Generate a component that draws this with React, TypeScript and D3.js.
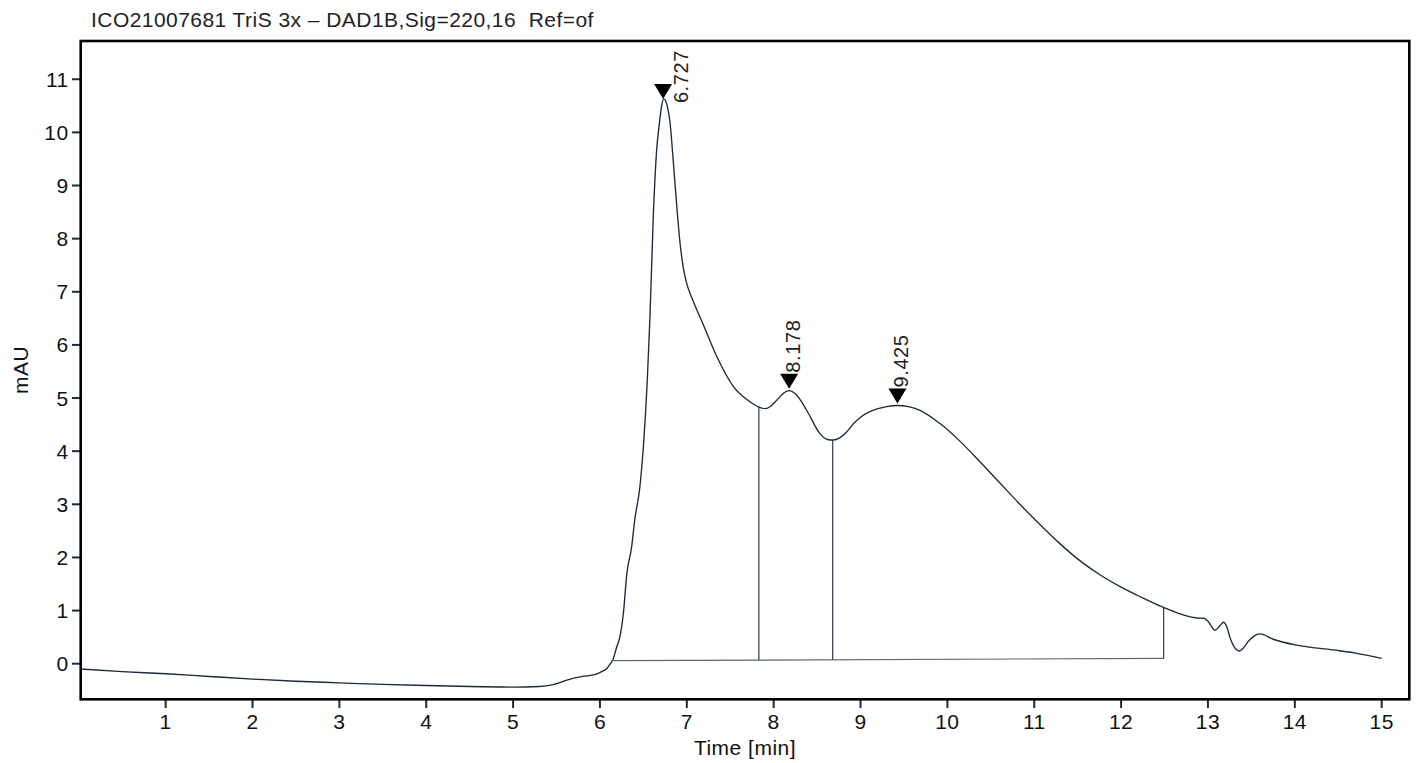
import React from 'react'
import * as d3 from 'd3'

// chromatogram trace (time in min, signal in mAU)
const times = [
	0.02, 0.5, 1.0, 1.5, 2.0, 2.5, 3.0, 3.5, 4.0, 4.5, 5.0, 5.3, 5.45, 5.6, 5.7, 5.8, 5.95, 6.03, 6.08, 6.12,
	6.155, 6.19, 6.23, 6.27, 6.31, 6.365, 6.4, 6.46, 6.5, 6.545, 6.576, 6.614, 6.653, 6.683, 6.71, 6.735, 6.76,
	6.785, 6.806, 6.835, 6.864, 6.92, 6.96, 7.0, 7.05, 7.1, 7.19, 7.34, 7.535, 7.727, 7.83, 7.9, 7.97, 8.035,
	8.12, 8.18, 8.25, 8.38, 8.533, 8.62, 8.686, 8.76, 8.84, 8.92, 9.0, 9.1, 9.2, 9.3, 9.425, 9.55, 9.685, 9.915,
	10.15, 10.375, 10.605, 10.835, 11.065, 11.295, 11.525, 11.76, 11.99, 12.22, 12.5, 12.87, 12.95, 13.0, 13.08,
	13.14, 13.18, 13.22, 13.25, 13.3, 13.36, 13.41, 13.46, 13.53, 13.6, 13.75, 14.02, 14.44, 14.7, 15.0,
]
const signal = [
	-0.1, -0.15, -0.19, -0.24, -0.29, -0.33, -0.36, -0.39, -0.41, -0.43, -0.44, -0.43, -0.4, -0.32, -0.27, -0.24,
	-0.2, -0.14, -0.09, 0.0, 0.1, 0.3, 0.51, 0.95, 1.7, 2.2, 2.7, 3.33, 4.08, 5.33, 6.53, 8.41, 9.67, 10.15, 10.5,
	10.63, 10.58, 10.42, 10.2, 9.65, 9.04, 7.95, 7.45, 7.15, 6.92, 6.72, 6.38, 5.8, 5.22, 4.93, 4.83, 4.8, 4.85,
	4.96, 5.1, 5.14, 5.08, 4.77, 4.33, 4.22, 4.21, 4.25, 4.36, 4.52, 4.64, 4.74, 4.8, 4.84, 4.86, 4.84, 4.77,
	4.52, 4.18, 3.8, 3.4, 3.0, 2.62, 2.26, 1.94, 1.67, 1.45, 1.26, 1.05, 0.86, 0.855, 0.8, 0.63, 0.72, 0.78, 0.68,
	0.51, 0.32, 0.24, 0.3, 0.41, 0.52, 0.56, 0.46, 0.35, 0.26, 0.2, 0.1,
]

// integration: baseline start/end and the drop lines between peaks
const baselineStart = [6.135, 0.057]
const baselineEnd = [12.49, 0.1]
const dropTimes = [7.83, 8.68, 12.49]

const peakTimes = [6.727, 8.178, 9.425]
const peakLabels = ['6.727', '8.178', '9.425']

const xTicks = [1, 2, 3, 4, 5, 6, 7, 8, 9, 10, 11, 12, 13, 14, 15]
const yTicks = [0, 1, 2, 3, 4, 5, 6, 7, 8, 9, 10, 11]

const title = 'ICO21007681 TriS 3x – DAD1B,Sig=220,16  Ref=of'

const W = 1419
const H = 763
const FONT = '"Liberation Sans", Arial, Helvetica, sans-serif'
const INK = '#1b2a3c'

export default function App() {
	const x = d3.scaleLinear().domain([0.022, 15.318]).range([80.7, 1409.3])
	const y = d3.scaleLinear().domain([-0.67, 11.72]).range([699.3, 41])

	const data = times.map((t, i) => [t, signal[i]] as [number, number])
	const line = d3
		.line<[number, number]>()
		.x(d => x(d[0]))
		.y(d => y(d[1]))
		.curve(d3.curveMonotoneX)

	const bis = d3.bisector((d: [number, number]) => d[0]).left
	const valueAt = (t: number) => {
		const i = Math.max(1, Math.min(data.length - 1, bis(data, t)))
		const a = data[i - 1],
			b = data[i]
		return a[1] + ((t - a[0]) / (b[0] - a[0])) * (b[1] - a[1])
	}
	const baseAt = (t: number) =>
		baselineStart[1] +
		((t - baselineStart[0]) / (baselineEnd[0] - baselineStart[0])) * (baselineEnd[1] - baselineStart[1])

	const triW = 18,
		triH = 15
	const labelLen = 54

	return (
		<svg
			width={W}
			height={H}
			style={{ position: 'absolute', left: 0, top: 0, background: '#fff' }}
			fontFamily={FONT}
		>
			<text x={91} y={27} fontSize={21} letterSpacing={0.45} fill="#222" style={{ whiteSpace: 'pre' }}>
				{title}
			</text>

			{/* trace */}
			<path d={line(data) ?? ''} fill="none" stroke={INK} strokeWidth={1.35} />

			{/* baseline + drop lines */}
			<line
				x1={x(baselineStart[0])}
				y1={y(baselineStart[1])}
				x2={x(baselineEnd[0])}
				y2={y(baselineEnd[1])}
				stroke="#5d6673"
				strokeWidth={1.2}
			/>
			{dropTimes.map(t => (
				<line
					key={t}
					x1={x(t)}
					x2={x(t)}
					y1={y(baseAt(t))}
					y2={y(valueAt(t))}
					stroke={INK}
					strokeWidth={1.1}
				/>
			))}

			{/* peak markers */}
			{peakTimes.map((t, i) => {
				const px = x(t)
				const py = y(valueAt(t)) - 2
				const top = py - triH
				const crowded = top - 2 - labelLen < y.range()[1] + 4
				const lx = crowded ? px + 25 : px + 11
				const ly = crowded ? py + 4 : top - 1
				return (
					<g key={t}>
						<path
							d={`M${px - triW / 2},${top}L${px + triW / 2},${top}L${px},${py}Z`}
							fill="#000"
						/>
						<text
							transform={`translate(${lx},${ly}) rotate(-90)`}
							fontSize={20}
							letterSpacing={0.6}
							fill="#222"
						>
							{peakLabels[i]}
						</text>
					</g>
				)
			})}

			{/* axes ticks */}
			{xTicks.map(t => (
				<g key={t}>
					<line x1={x(t)} x2={x(t)} y1={699.3} y2={708} stroke={INK} strokeWidth={2} />
					<text x={x(t)} y={728.5} textAnchor="middle" fontSize={21} letterSpacing={0.4} fill="#111">
						{t}
					</text>
				</g>
			))}
			{yTicks.map(v => (
				<g key={v}>
					<line x1={72} x2={80.7} y1={y(v)} y2={y(v)} stroke={INK} strokeWidth={2} />
					<text x={68.5} y={y(v) + 7.5} textAnchor="end" fontSize={21} letterSpacing={0.4} fill="#111">
						{v}
					</text>
				</g>
			))}

			{/* frame */}
			<rect x={80.7} y={41} width={1409.3 - 80.7} height={699.3 - 41} fill="none" stroke="#000" strokeWidth={2.6} />

			<text x={745} y={755} textAnchor="middle" fontSize={21} letterSpacing={0.5} fill="#111">
				Time [min]
			</text>
			<text transform={`translate(28,${370}) rotate(-90)`} textAnchor="middle" fontSize={21} letterSpacing={0.5} fill="#111">
				mAU
			</text>
		</svg>
	)
}
